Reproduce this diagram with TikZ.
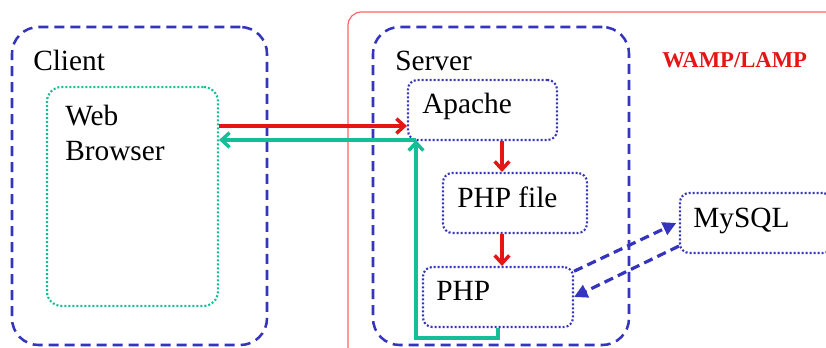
\documentclass[tikz,border=0pt]{standalone}
\usepackage{fontspec}
\setmainfont{Liberation Serif}
\usepackage{xcolor}
\usepackage{tikz}
\usetikzlibrary{fit,arrows.meta}

\definecolor{tierblue}{RGB}{52,52,190}
\definecolor{reqred}{RGB}{230,20,20}
\definecolor{respgreen}{RGB}{20,190,150}
\definecolor{framered}{RGB}{250,100,100}

\tikzset{
  tier/.style={draw=tierblue, line width=1.9pt, dash pattern=on 7.5pt off 4.5pt, rounded corners=20pt, inner sep=0pt},
  part/.style={draw=tierblue, line width=1.6pt, dash pattern=on 1.5pt off 1.5pt, rounded corners=7pt, inner sep=0pt},
  lbl/.style={font=\fontsize{22}{26}\selectfont, inner sep=0pt, anchor=base west},
  req/.style={draw=reqred, line width=2.6pt, -{Straight Barb[length=6pt,width=11pt]}},
  resp/.style={draw=respgreen, line width=2.6pt, -{Straight Barb[length=6pt,width=11pt]}},
  query/.style={draw=tierblue, line width=2.4pt, dash pattern=on 7pt off 4pt, -{Triangle[length=10pt,width=10pt]}}
}

\begin{document}
\begin{tikzpicture}[x=0.75pt, y=-0.75pt]
    \useasboundingbox (0,0) rectangle (826,347);
    \clip (0,0) rectangle (826,347);

    % WAMP/LAMP frame
    \draw[framered, line width=0.9pt, rounded corners=10pt] (348,360) |- (840,12);
    \node[lbl, font=\fontsize{17}{19}\bfseries, text=reqred] (stack) at (662,67) {WAMP/LAMP};

    % Client side
    \node[tier, fit={(12,27) (267,345)}] (client) {};
    \node[lbl] (clientlbl) at (33,70) {Client};
    \node[part, draw=respgreen, rounded corners=11pt, fit={(47,87) (218,306)}] (browser) {};
    \node[lbl, anchor=north west, align=left] (browserlbl) at (65,105) {Web\\Browser};

    % Server side
    \node[tier, fit={(373,27) (629,345)}] (server) {};
    \node[lbl] (serverlbl) at (395,70) {Server};
    \node[part, fit={(408,80) (557,140)}] (apache) {};
    \node[lbl] (apachelbl) at (422,113) {Apache};
    \node[part, fit={(443,173) (587,233)}] (phpfile) {};
    \node[lbl] (phpfilelbl) at (457,207) {PHP file};
    \node[part, fit={(423,267) (573,327)}] (php) {};
    \node[lbl] (phplbl) at (436,300) {PHP};

    % Database
    \node[part, fit={(680,193) (832,253)}] (mysql) {};
    \node[lbl] (mysqllbl) at (693,227) {MySQL};

    % Request path
    \coordinate (reqrow) at (0,126);
    \coordinate (flow) at (502,0);
    \draw[req] (browser.east |- reqrow) -- (apache.west |- reqrow);
    \draw[req] (apache.south -| flow) -- (phpfile.north -| flow);
    \draw[req] (phpfile.south -| flow) -- (php.north -| flow);

    % Response path
    \coordinate (turn) at (416,140);
    \coordinate (exit) at (498,0);
    \draw[resp] (php.south -| exit) -- ++(0,10) -| (turn);
    \draw[resp] (turn) -- (browser.east |- turn);

    % Queries
    \draw[query] ([yshift=-4pt]php.north east) -- ([xshift=-2pt]mysql.west);
    \draw[query] ([yshift=6pt]mysql.south west) -- (php.east);
\end{tikzpicture}
\end{document}
